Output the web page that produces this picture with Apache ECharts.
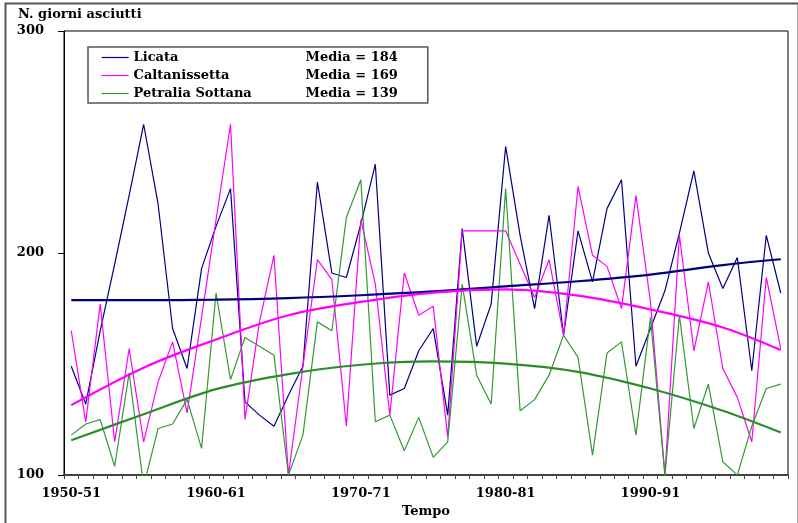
<!DOCTYPE html>
<html>
<head>
<meta charset="utf-8">
<script src="https://cdn.jsdelivr.net/npm/echarts@6/dist/echarts.min.js"></script>
<style>
html,body{margin:0;padding:0;background:#fff;}
#chart{width:798px;height:523px;}
</style>
</head>
<body>
<div id="chart"></div>
<script>
var categories = ['1950-51','1951-52','1952-53','1953-54','1954-55','1955-56','1956-57','1957-58','1958-59','1959-60',
  '1960-61','1961-62','1962-63','1963-64','1964-65','1965-66','1966-67','1967-68','1968-69','1969-70',
  '1970-71','1971-72','1972-73','1973-74','1974-75','1975-76','1976-77','1977-78','1978-79','1979-80',
  '1980-81','1981-82','1982-83','1983-84','1984-85','1985-86','1986-87','1987-88','1988-89','1989-90',
  '1990-91','1991-92','1992-93','1993-94','1994-95','1995-96','1996-97','1997-98','1998-99','1999-00'];

var seriesNames = ['Licata', 'Caltanissetta', 'Petralia Sottana'];
var means = [184, 169, 139];

var licata = [149,132,165,195,226,258,222,166,148,193,212,229,133,127,122,136,149,232,191,189,
  213,240,136,139,156,166,127,211,158,177,248,208,175,217,163,210,187,220,233,149,
  166,183,209,237,200,184,198,147,208,182];
var caltanissetta = [165,124,177,115,157,115,142,160,128,171,215,258,125,169,199,100,149,197,188,122,
  215,186,127,191,172,176,117,210,210,210,210,195,180,197,163,230,199,194,175,226,
  178,100,208,156,187,148,135,115,189,157];
var petralia = [118,123,125,104,146,95,121,123,134,112,182,143,162,158,154,100,118,169,165,216,
  233,124,127,111,126,108,115,186,145,132,229,129,134,145,163,153,109,155,160,118,
  171,100,172,121,141,106,100,122,139,141];

// trend curves at these category positions
var trendPositions = [0,5,10,15,20,25,30,35,40,45,49];
var licataTrend = [178.8,178.8,179.0,179.7,181.0,182.7,185.0,187.3,190.3,194.6,197.2];
var caltanissettaTrend = [131.5,148.4,161.1,172.0,178.0,182.2,183.6,180.8,174.6,166.5,156.3];
var petraliaTrend = [115.7,127.4,138.7,145.5,149.7,151.2,150.2,146.5,139.0,129.0,119.2];

var yTicks = [100, 200, 300];

var colors = ['#000080', '#ff00ff', '#339933'];
var trendColors = ['#000080', '#ff00ff', '#2e8b2e'];
var FONT = 'DejaVu Serif';

function pairs(vals) {
  return trendPositions.map(function (x, k) { return [x, vals[k]]; });
}

var chart = echarts.init(document.getElementById('chart'), null, {renderer: 'canvas'});

var dataSets = [licata, caltanissetta, petralia];
var trendSets = [licataTrend, caltanissettaTrend, petraliaTrend];
var series = [];
seriesNames.forEach(function (n, i) {
  series.push({
    name: n, type: 'line', data: dataSets[i], symbol: 'none', showSymbol: false,
    lineStyle: {color: colors[i], width: 1.2}, itemStyle: {color: colors[i]},
    z: 2, clip: true
  });
});
seriesNames.forEach(function (n, i) {
  series.push({
    name: n + ' (tendenza)', type: 'line', data: pairs(trendSets[i]), symbol: 'none', showSymbol: false,
    smooth: 0.35, lineStyle: {color: trendColors[i], width: 2.2}, itemStyle: {color: trendColors[i]},
    z: 3, silent: true
  });
});

var textBase = {fontFamily: FONT, fontWeight: 'bold', fontSize: 13, color: '#000'};

chart.setOption({
  animation: false,
  backgroundColor: '#fff',
  title: {
    text: 'N. giorni asciutti', left: 18, top: 8, padding: 0,
    textStyle: {fontFamily: FONT, fontWeight: 'bold', fontSize: 13, color: '#000'}
  },
  legend: {
    data: seriesNames,
    orient: 'vertical',
    left: 88, top: 47,
    itemWidth: 27, itemHeight: 14, itemGap: 5,
    padding: [4, 30, 3, 13],
    borderColor: '#555', borderWidth: 1.5,
    backgroundColor: '#fff',
    selectedMode: false,
    itemStyle: {opacity: 0},
    lineStyle: {width: 1.2},
    formatter: function (name) {
      var i = seriesNames.indexOf(name);
      return '{a|' + name + '}{b|Media = ' + means[i] + '}';
    },
    textStyle: {
      fontFamily: FONT, fontWeight: 'bold', fontSize: 13, color: '#000',
      rich: {
        a: {width: 172, fontFamily: FONT, fontWeight: 'bold', fontSize: 13, color: '#000'},
        b: {width: 112, fontFamily: FONT, fontWeight: 'bold', fontSize: 13, color: '#000'}
      }
    }
  },
  grid: {left: 64, right: 10, top: 31, bottom: 47, show: true, borderColor: '#000', borderWidth: 1, backgroundColor: 'transparent'},
  xAxis: {
    type: 'category', data: categories, boundaryGap: true,
    name: 'Tempo', nameLocation: 'middle', nameGap: 29,
    nameTextStyle: textBase,
    axisLine: {lineStyle: {color: '#444', width: 2}},
    axisTick: {show: true, interval: 0, length: 4, lineStyle: {color: '#444'}},
    axisLabel: {interval: 9, margin: 12, fontFamily: FONT, fontWeight: 'bold', fontSize: 13, color: '#000'},
    splitLine: {show: false}
  },
  yAxis: {
    type: 'value', min: yTicks[0], max: yTicks[yTicks.length - 1], interval: 100,
    axisLine: {show: true, lineStyle: {color: '#000', width: 1}},
    axisTick: {show: true, length: 6, lineStyle: {color: '#000'}},
    axisLabel: {margin: 20, fontFamily: FONT, fontWeight: 'bold', fontSize: 13, color: '#000'},
    splitLine: {show: false}
  },
  graphic: [{
    type: 'rect', left: 3, top: 1, silent: true,
    shape: {x: 0, y: 0, width: 793, height: 600},
    style: {fill: 'none', stroke: '#555', lineWidth: 2}
  }],
  series: series
});
</script>
</body>
</html>
